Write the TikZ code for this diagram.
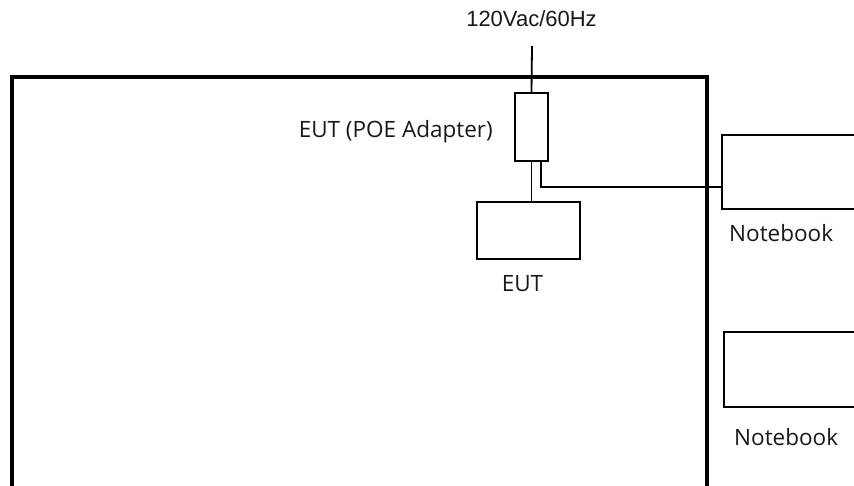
\documentclass[tikz,border=0pt]{standalone}
\usepackage{fontspec}
\setmainfont{Open Sans}
\newfontfamily\arialfont{Liberation Sans}
\usetikzlibrary{positioning}

\tikzset{
    box/.style={draw, line width=1.8pt, rectangle, inner sep=0pt},
    wire/.style={line width=1.8pt},
    lbl/.style={inner sep=0pt, text=black!90, font=\fontsize{22.5}{26}\selectfont}
}

\begin{document}
\begin{tikzpicture}[x=1pt, y=-1pt]

% ---- Page frame ----
            \useasboundingbox (0,0) rectangle (854,486);
            \clip (0,0) rectangle (854,486);
            \fill[white] (0,0) rectangle (854,486);

% ---- Test room (ONLY this is thick) ----
            \draw[line width=4pt, line join=miter] (12,490) -- (12,77) -- (707,77) -- (707,490);

% ---- Equipment boxes ----
            \node[box, minimum width=33pt, minimum height=68pt] (adapter) at (531.5,127) {};
            \node[box, minimum width=103pt, minimum height=57pt] (eut) at (528.5,230.5) {};
            \node[box, minimum width=150pt, minimum height=74pt] (nbA) at (797,172) {};
            \node[box, minimum width=150pt, minimum height=75pt] (nbB) at (799,369.5) {};

% ---- Labels ----
            \node[lbl, anchor=base, font=\arialfont\fontsize{22}{26}\selectfont] (mains) at (531.5,27) {120Vac/60Hz};
            \node[lbl, anchor=base east] (adapterlbl) at (493,138) {EUT (POE Adapter)};
            \node[lbl, anchor=base] (eutlbl) at (522.5,292) {EUT};
            \node[lbl, anchor=base west] (nbAlbl) at (729,242) {Notebook};
            \node[lbl, anchor=base west] (nbBlbl) at (734,445) {Notebook};

% ---- Cables ----
            \coordinate (plug) at (532,46);
            \draw[wire] (plug) -- (adapter.north);
            \draw[wire] (adapter.south) -- (adapter.south |- eut.north);
            \draw[wire] ([xshift=-8pt]adapter.south east) |- ([yshift=-15pt]nbA.west);

\end{tikzpicture}
\end{document}
